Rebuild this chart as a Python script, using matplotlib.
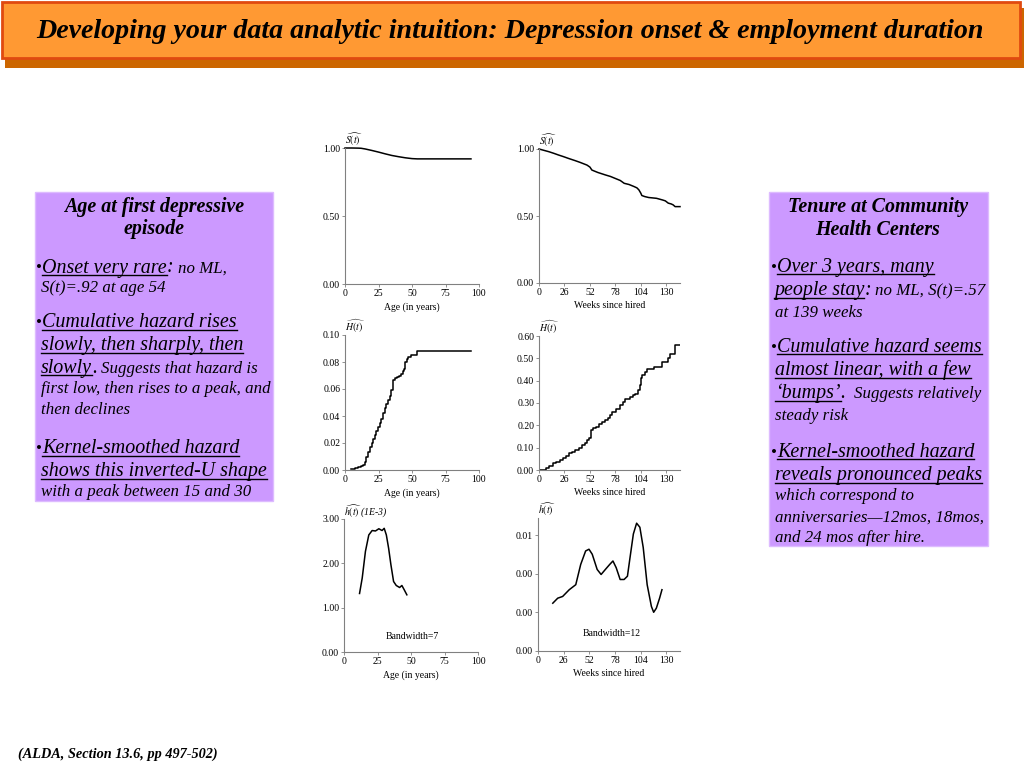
import matplotlib
matplotlib.use('Agg')
import matplotlib.pyplot as plt
from matplotlib.patches import Rectangle
from matplotlib.ticker import FormatStrFormatter
from matplotlib.font_manager import FontProperties

plt.rcParams['font.family'] = ['Liberation Serif', 'DejaVu Serif']
plt.rcParams['mathtext.fontset'] = 'stix'

# ---- data ----
# survival, age at first depressive episode
age_s = [0, 5, 10, 12, 15, 20, 25, 30, 35, 40, 45, 50, 54, 94]
surv_age = [1.0, 1.0, 0.999, 0.998, 0.993, 0.982, 0.970, 0.957, 0.945, 0.936, 0.928, 0.922, 0.920, 0.920]

# survival, weeks since hired
wk_s = [0, 5, 10, 15, 20, 25, 30, 37, 42, 49, 52, 54, 60, 68, 73, 78, 83, 87, 92, 97, 100, 102,
        104, 105, 108, 112, 120, 126, 129, 132, 135, 137, 139, 144]
surv_wk = [1.0, 0.99, 0.98, 0.968, 0.955, 0.943, 0.93, 0.913, 0.90, 0.88, 0.865, 0.843, 0.825, 0.806,
           0.795, 0.78, 0.765, 0.744, 0.735, 0.72, 0.71, 0.695, 0.67, 0.653, 0.645, 0.638, 0.632,
           0.62, 0.613, 0.596, 0.59, 0.583, 0.57, 0.57]

# cumulative hazard, age
age_h = [4.4, 7.4, 10, 12.3, 13.5, 14.8, 16, 17.3, 18.5, 19.8, 21, 22.2, 23.5, 24.7, 26, 27.2, 28.4,
         29.6, 30.8, 32, 33.3, 34.6, 35.8, 37, 39, 40, 41.5, 43, 44, 45, 46, 47, 49.4, 52, 54, 94]
cumhaz_age = [0.0005, 0.0012, 0.002, 0.003, 0.004, 0.006, 0.010, 0.0136, 0.017, 0.0198, 0.023, 0.026,
              0.029, 0.032, 0.035, 0.038, 0.042, 0.046, 0.049, 0.052, 0.055, 0.059, 0.067, 0.068,
              0.069, 0.070, 0.071, 0.073, 0.075, 0.080, 0.082, 0.084, 0.085, 0.085, 0.088, 0.088]

# cumulative hazard, weeks
wk_h = [0, 3, 7, 10, 14, 17, 21, 25, 28, 31, 34, 37, 41, 44, 47, 49, 51, 52.6, 53.6, 55,
        58, 61, 64.5, 67, 70, 72, 75, 79, 83, 86, 88, 93, 96, 98, 101, 103.5, 104.5, 105.5, 108, 110,
        117, 124, 125.6, 130.7, 132, 134, 139, 144]
cumhaz_wk = [0, 0.002, 0.007, 0.018, 0.03, 0.037, 0.044, 0.052, 0.062, 0.074, 0.082, 0.089, 0.1, 0.112,
             0.123, 0.134, 0.142, 0.149, 0.179, 0.186, 0.194, 0.205, 0.216, 0.224, 0.231, 0.245, 0.26,
             0.275, 0.29, 0.305, 0.32, 0.327, 0.335, 0.342, 0.36, 0.38, 0.41, 0.424, 0.44, 0.451,
             0.462, 0.462, 0.484, 0.484, 0.5, 0.52, 0.56, 0.56]

# kernel smoothed hazard, age (1E-3)
age_k = [11.6, 13.6, 16, 18.5, 21, 23.5, 26, 28.4, 30, 31.6, 33.3, 35, 37, 39, 41.5, 43.2, 45, 46.9]
haz_age = [1.32, 1.67, 2.27, 2.64, 2.74, 2.73, 2.78, 2.74, 2.79, 2.64, 2.34, 1.97, 1.59, 1.50, 1.455,
           1.50, 1.40, 1.29]

# kernel smoothed hazard, weeks
wk_k = [15, 20, 25, 31.7, 38.3, 43.3, 48.3, 51.7, 55, 60, 64, 68.3, 72.7, 76, 79.3, 83.3, 87.3, 90.7,
        93.3, 96.7, 100, 103.3, 106.7, 110.7, 115, 117.3, 120, 123.3, 125.7]
haz_wk = [0.00248, 0.00274, 0.00283, 0.00318, 0.00344, 0.00449, 0.00519, 0.00528, 0.00502, 0.00423,
          0.00397, 0.00423, 0.00449, 0.00467, 0.00432, 0.00371, 0.00371, 0.00388, 0.00484, 0.00607,
          0.00663, 0.00642, 0.00537, 0.00344, 0.00231, 0.00201, 0.00222, 0.00274, 0.00318]

age_ticks = [0, 25, 50, 75, 100]
wk_ticks = [0, 26, 52, 78, 104, 130]

title = 'Developing your data analytic intuition: Depression onset & employment duration'
footer = '(ALDA, Section 13.6, pp 497-502)'

BIG = 14.4
SMALL = 12.2

left_head = ['Age at first depressive', 'episode']
right_head = ['Tenure at Community', 'Health Centers']

# each line: (baseline y, x start, [(text, size, underline)])
left_lines = [
    (272.5, 36, [('\u2022', SMALL, 0), ('Onset very rare', BIG, 1), (':', BIG, 0), (' no ML,', SMALL, 0)]),
    (291.7, 41, [('S(t)=.92 at age 54', SMALL, 0)]),
    (327, 36, [('\u2022', SMALL, 0), ('Cumulative hazard rises', BIG, 1)]),
    (350, 41, [('slowly, then sharply, then', BIG, 1)]),
    (372.7, 41, [('slowly', BIG, 1), ('.', BIG, 0), (' Suggests that hazard is', SMALL, 0)]),
    (392.7, 41, [('first low, then rises to a peak, and', SMALL, 0)]),
    (414, 41, [('then declines', SMALL, 0)]),
    (453, 36, [('\u2022', SMALL, 0), ('Kernel-smoothed hazard', BIG, 1)]),
    (476, 41, [('shows this inverted-U shape', BIG, 1)]),
    (496, 41, [('with a peak between 15 and 30', SMALL, 0)]),
]
right_lines = [
    (271.7, 771, [('\u2022', SMALL, 0), ('Over 3 years, many', BIG, 1)]),
    (295, 774, [('people stay', BIG, 1), (':', BIG, 0), (' no ML, S(t)=.57', SMALL, 0)]),
    (316.7, 775, [('at 139 weeks', SMALL, 0)]),
    (351.7, 771, [('\u2022', SMALL, 0), ('Cumulative hazard seems', BIG, 1)]),
    (375, 775, [('almost linear, with a few', BIG, 1)]),
    (398, 775, [('\u2018bumps\u2019', BIG, 1), ('.', BIG, 0), ('  Suggests relatively', SMALL, 0)]),
    (420, 775, [('steady risk', SMALL, 0)]),
    (456.7, 771, [('\u2022', SMALL, 0), ('Kernel-smoothed hazard', BIG, 1)]),
    (480, 775, [('reveals pronounced peaks', BIG, 1)]),
    (500, 775, [('which correspond to', SMALL, 0)]),
    (521.7, 775, [('anniversaries\u201412mos, 18mos,', SMALL, 0)]),
    (541.7, 775, [('and 24 mos after hire.', SMALL, 0)]),
]

fig = plt.figure(figsize=(10.24, 7.68), dpi=100)
bg = fig.add_axes([0, 0, 1, 1])
bg.set_xlim(0, 1024)
bg.set_ylim(768, 0)
bg.axis('off')
renderer = fig.canvas.get_renderer()

# title banner
bg.add_patch(Rectangle((5, 8), 1019, 60, facecolor='#CC6600', edgecolor='none'))
bg.add_patch(Rectangle((2, 2), 1018, 56, facecolor='#FF9933', edgecolor='#E04A10', lw=2))
bg.text(510, 32, title, ha='center', va='center', fontsize=20.2, weight='bold', style='italic')
bg.text(18, 754, footer, ha='left', va='center', fontsize=10.3, weight='bold', style='italic')

# side boxes
bg.add_patch(Rectangle((35, 192), 238, 309, facecolor='#CC99FF', edgecolor='#DDBBFF', lw=1))
bg.add_patch(Rectangle((769, 192), 219, 354, facecolor='#CC99FF', edgecolor='#DDBBFF', lw=1))


def width_of(s, size, style):
    fp = FontProperties(family='Liberation Serif', size=size, style=style)
    w1 = renderer.get_text_width_height_descent('|' + s + '|', fp, ismath=False)[0]
    w0 = renderer.get_text_width_height_descent('||', fp, ismath=False)[0]
    return w1 - w0


def draw_line(y, x, runs):
    for txt, size, ul in runs:
        style = 'normal' if txt == '\u2022' else 'italic'
        body = txt.lstrip()
        x += width_of(txt[:len(txt) - len(body)], size, style) if body != txt else 0
        bg.text(x, y, body, fontsize=size, style=style, ha='left', va='baseline')
        w = width_of(body, size, style)
        if ul:
            bg.plot([x, x + w], [y + 2.5, y + 2.5], color='black', lw=1.0)
        x += w


for i, h in enumerate(left_head):
    bg.text(154, 211.7 + 22 * i, h, ha='center', va='baseline', fontsize=BIG, weight='bold', style='italic')
for i, h in enumerate(right_head):
    bg.text(878, 211.7 + 23 * i, h, ha='center', va='baseline', fontsize=BIG, weight='bold', style='italic')
for y, x, runs in left_lines:
    draw_line(y, x, runs)
for y, x, runs in right_lines:
    draw_line(y, x, runs)


def px_axes(x0, y0, x1, y1):
    return fig.add_axes([x0 / 1024, (768 - y1) / 768, (x1 - x0) / 1024, (y1 - y0) / 768])


def setup(ax, xlim, xticks, ylim, yticks, xlabel, ylab):
    ax.set_xlim(xlim)
    ax.set_ylim(ylim)
    ax.set_xticks(xticks)
    ax.set_yticks(yticks)
    ax.yaxis.set_major_formatter(FormatStrFormatter('%.2f'))
    ax.patch.set_alpha(0)
    for s in ['top', 'right']:
        ax.spines[s].set_visible(False)
    for s in ['left', 'bottom']:
        ax.spines[s].set_color('#808080')
        ax.spines[s].set_linewidth(0.8)
    ax.tick_params(length=2, width=0.6, color='#808080', labelsize=7, pad=1.5)
    ax.set_xlabel(xlabel, fontsize=7, labelpad=3)
    ax.text(0, 1.0, ylab, transform=ax.transAxes, ha='left', va='bottom', fontsize=7, style='italic')


ax1 = px_axes(345, 148, 479, 284)
setup(ax1, (0, 100), age_ticks, (0, 1), [0, 0.5, 1.0], 'Age (in years)', r'$\widehat{S(t)}$')
ax1.plot(age_s, surv_age, color='black', lw=1.1, clip_on=False)

ax2 = px_axes(539, 149, 680, 283)
setup(ax2, (0, 144), wk_ticks, (0, 1), [0, 0.5, 1.0], 'Weeks since hired', r'$\widehat{S(t)}$')
ax2.plot(wk_s, surv_wk, color='black', lw=1.1, clip_on=False)

ax3 = px_axes(345, 335, 479, 470)
setup(ax3, (0, 100), age_ticks, (0, 0.10), [0, 0.02, 0.04, 0.06, 0.08, 0.10], 'Age (in years)',
      r'$\widehat{H(t)}$')
ax3.plot(age_h, cumhaz_age, color='black', lw=1.1, drawstyle='steps-post')

ax4 = px_axes(539, 336, 680, 470)
setup(ax4, (0, 144), wk_ticks, (0, 0.60), [0, 0.1, 0.2, 0.3, 0.4, 0.5, 0.6], 'Weeks since hired',
      r'$\widehat{H(t)}$')
ax4.plot(wk_h, cumhaz_wk, color='black', lw=1.1, drawstyle='steps-post')

ax5 = px_axes(344, 519, 478, 652)
setup(ax5, (0, 100), age_ticks, (0, 3), [0, 1, 2, 3], 'Age (in years)', r'$\widehat{h(t)}$ (1E-3)')
ax5.plot(age_k, haz_age, color='black', lw=1.1)
ax5.text(0.51, 0.12, 'Bandwidth=7', transform=ax5.transAxes, ha='center', va='center', fontsize=7)

ax6 = px_axes(538, 518, 680, 651)
setup(ax6, (0, 144), wk_ticks, (0, 0.0069), [0, 0.002, 0.004, 0.006], 'Weeks since hired',
      r'$\widehat{h(t)}$')
ax6.plot(wk_k, haz_wk, color='black', lw=1.1)
ax6.text(0.52, 0.13, 'Bandwidth=12', transform=ax6.transAxes, ha='center', va='center', fontsize=7)

fig.savefig('out.png', dpi=100)
